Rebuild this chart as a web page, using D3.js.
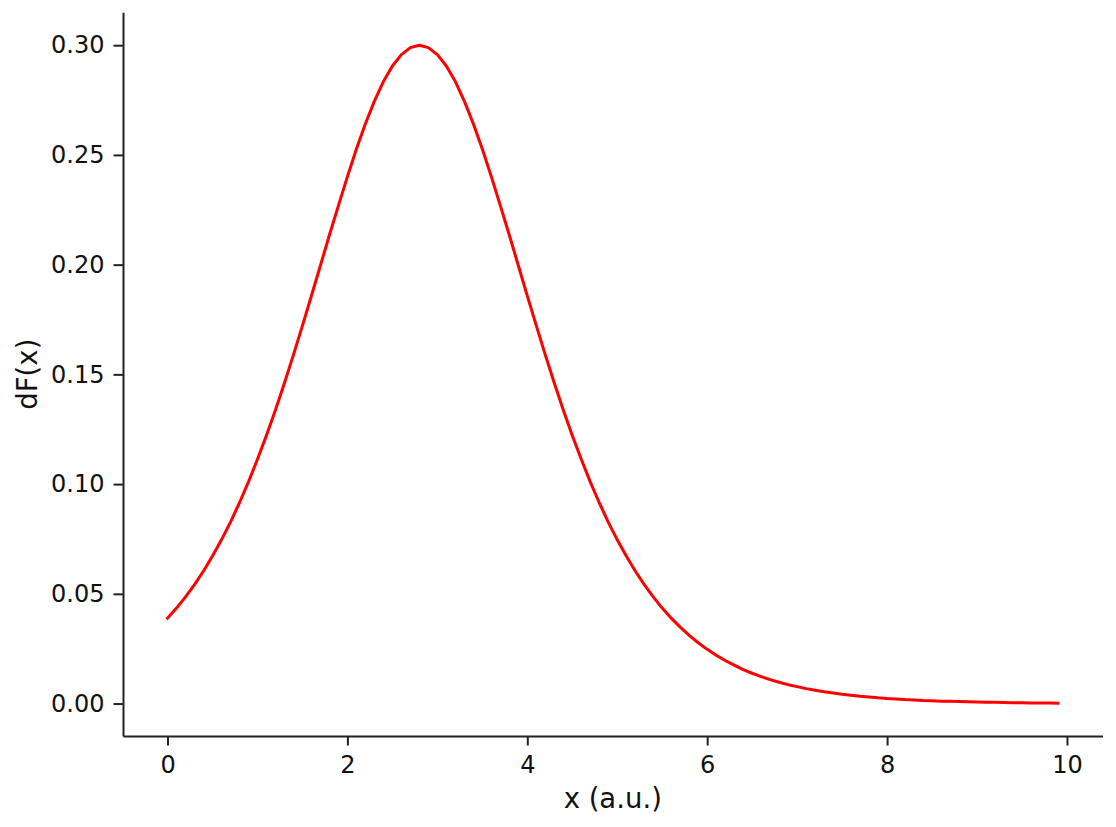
<!DOCTYPE html>
<html>
<head>
<meta charset="utf-8">
<script src="https://cdn.jsdelivr.net/npm/d3@7"></script>
<style>
  body { margin: 0; background: #fff; }
  text { font-family: "DejaVu Sans", sans-serif; }
</style>
</head>
<body>
<div id="content"></div>
<script>
// values (x in a.u., dF(x))
const xValues = [
  0.0, 0.1, 0.2, 0.3, 0.4, 0.5, 0.6, 0.7, 0.8, 0.9,
  1.0, 1.1, 1.2, 1.3, 1.4, 1.5, 1.6, 1.7, 1.8, 1.9,
  2.0, 2.1, 2.2, 2.3, 2.4, 2.5, 2.6, 2.7, 2.8, 2.9,
  3.0, 3.1, 3.2, 3.3, 3.4, 3.5, 3.6, 3.7, 3.8, 3.9,
  4.0, 4.1, 4.2, 4.3, 4.4, 4.5, 4.6, 4.7, 4.8, 4.9,
  5.0, 5.1, 5.2, 5.3, 5.4, 5.5, 5.6, 5.7, 5.8, 5.9,
  6.0, 6.1, 6.2, 6.3, 6.4, 6.5, 6.6, 6.7, 6.8, 6.9,
  7.0, 7.1, 7.2, 7.3, 7.4, 7.5, 7.6, 7.7, 7.8, 7.9,
  8.0, 8.1, 8.2, 8.3, 8.4, 8.5, 8.6, 8.7, 8.8, 8.9,
  9.0, 9.1, 9.2, 9.3, 9.4, 9.5, 9.6, 9.7, 9.8, 9.9
];
const dfValues = [
  0.0389, 0.0435, 0.0486, 0.0542, 0.0604, 0.0672, 0.0746, 0.0827, 0.0915, 0.1010,
  0.1113, 0.1222, 0.1338, 0.1461, 0.1589, 0.1722, 0.1858, 0.1996, 0.2135, 0.2269,
  0.2401, 0.2527, 0.2642, 0.2745, 0.2834, 0.2905, 0.2957, 0.2989, 0.3000, 0.2989,
  0.2957, 0.2905, 0.2834, 0.2745, 0.2642, 0.2527, 0.2401, 0.2269, 0.2135, 0.1996,
  0.1858, 0.1722, 0.1589, 0.1461, 0.1338, 0.1222, 0.1113, 0.1010, 0.0915, 0.0827,
  0.0746, 0.0672, 0.0604, 0.0542, 0.0486, 0.0435, 0.0389, 0.0348, 0.0311, 0.0277,
  0.0247, 0.0220, 0.0196, 0.0175, 0.0155, 0.0138, 0.0123, 0.0109, 0.0097, 0.0086,
  0.0077, 0.0068, 0.0061, 0.0054, 0.0048, 0.0042, 0.0038, 0.0033, 0.0030, 0.0026,
  0.0023, 0.0021, 0.0018, 0.0016, 0.0014, 0.0013, 0.0011, 0.0010, 0.0009, 0.0008,
  0.0007, 0.0006, 0.0006, 0.0005, 0.0004, 0.0004, 0.0003, 0.0003, 0.0003, 0.0002
];
const xTicks = [0, 2, 4, 6, 8, 10];
const yTicks = [0.00, 0.05, 0.10, 0.15, 0.20, 0.25, 0.30];
const xLabel = "x (a.u.)";
const yLabel = "dF(x)";

const width = 1116, height = 827;
const margin = {top: 12.3, right: 13.5, bottom: 91, left: 123};
const ink = "#222", textInk = "#111";

const svg = d3.select("#content").append("svg")
    .attr("width", width)
    .attr("height", height);

// matplotlib-style 5% padding around the data
const xExt = d3.extent(xValues), yExt = d3.extent(dfValues);
const xPad = (xExt[1] - xExt[0]) * 0.05, yPad = (yExt[1] - yExt[0]) * 0.05;

const x = d3.scaleLinear()
    .domain([xExt[0] - xPad, xExt[1] + xPad])
    .range([margin.left, width - margin.right]);
const y = d3.scaleLinear()
    .domain([yExt[0] - yPad, yExt[1] + yPad])
    .range([height - margin.bottom, margin.top]);

const xAxis = svg.append("g")
    .attr("transform", `translate(0,${height - margin.bottom})`)
    .call(d3.axisBottom(x).tickValues(xTicks).tickFormat(d3.format("d"))
        .tickSize(9.5).tickSizeOuter(0).tickPadding(10));

const yAxis = svg.append("g")
    .attr("transform", `translate(${margin.left},0)`)
    .call(d3.axisLeft(y).tickValues(yTicks).tickFormat(d3.format(".2f"))
        .tickSize(9.5).tickSizeOuter(0).tickPadding(9));

[xAxis, yAxis].forEach(g => {
    g.select(".domain").attr("stroke", ink).attr("stroke-width", 2);
    g.selectAll(".tick line").attr("stroke", ink).attr("stroke-width", 2);
    g.selectAll(".tick text")
        .attr("fill", textInk)
        .style("font-size", "24px")
        .style("font-family", "'DejaVu Sans', sans-serif");
});

svg.append("text")
    .attr("x", (margin.left + width - margin.right) / 2)
    .attr("y", 808)
    .attr("text-anchor", "middle")
    .attr("fill", textInk)
    .style("font-size", "27.5px")
    .text(xLabel);

svg.append("text")
    .attr("transform", `translate(37,${(margin.top + height - margin.bottom) / 2}) rotate(-90)`)
    .attr("text-anchor", "middle")
    .attr("fill", textInk)
    .style("font-size", "27.5px")
    .text(yLabel);

const line = d3.line()
    .x((d, i) => x(xValues[i]))
    .y(d => y(d));

svg.append("path")
    .datum(dfValues)
    .attr("d", line)
    .attr("fill", "none")
    .attr("stroke", "#ff0000")
    .attr("stroke-width", 3)
    .attr("stroke-linejoin", "round")
    .attr("stroke-linecap", "square");
</script>
</body>
</html>
